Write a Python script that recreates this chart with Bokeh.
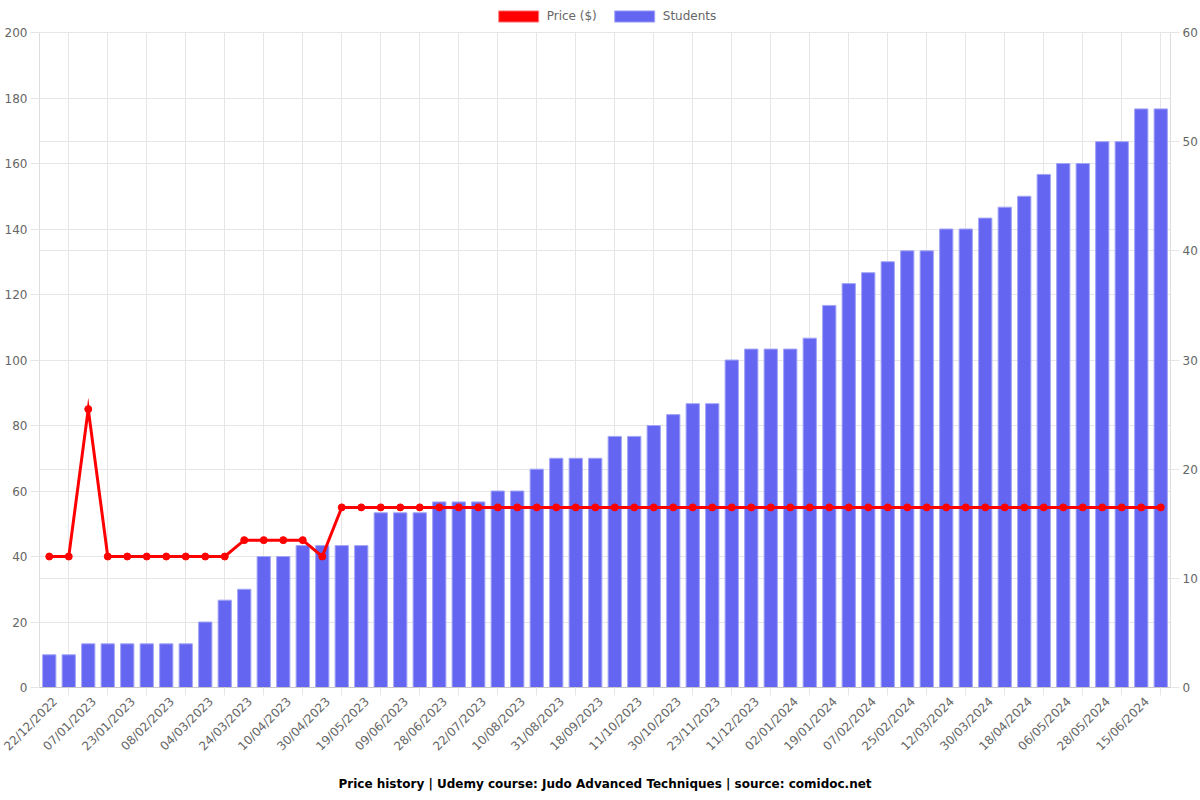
import math
from bokeh.plotting import figure
from bokeh.models import (Range1d, LinearAxis, FixedTicker, Grid, Legend, LegendItem,
                          ColumnDataSource)
from bokeh.embed import file_html
from bokeh.resources import INLINE

# ---- data ----
tick_labels = ["22/12/2022", "07/01/2023", "23/01/2023", "08/02/2023", "04/03/2023",
               "24/03/2023", "10/04/2023", "30/04/2023", "19/05/2023", "09/06/2023",
               "28/06/2023", "22/07/2023", "10/08/2023", "31/08/2023", "18/09/2023",
               "11/10/2023", "30/10/2023", "23/11/2023", "11/12/2023", "02/01/2024",
               "19/01/2024", "07/02/2024", "25/02/2024", "12/03/2024", "30/03/2024",
               "18/04/2024", "06/05/2024", "28/05/2024", "15/06/2024"]

students = [3, 3, 4, 4, 4, 4, 4, 4, 6, 8, 9, 12, 12, 13, 13, 13, 13, 16, 16, 16,
            17, 17, 17, 18, 18, 20, 21, 21, 21, 23, 23, 24, 25, 26, 26, 30, 31, 31,
            31, 32, 35, 37, 38, 39, 40, 40, 42, 42, 43, 44, 45, 47, 48, 48, 50, 50,
            53, 53]

price = [40, 40, 85, 40, 40, 40, 40, 40, 40, 40, 45, 45, 45, 45, 40, 55, 55, 55,
         55, 55, 55, 55, 55, 55, 55, 55, 55, 55, 55, 55, 55, 55, 55, 55, 55, 55, 55,
         55, 55, 55, 55, 55, 55, 55, 55, 55, 55, 55, 55, 55, 55, 55, 55, 55, 55, 55,
         55, 55]

PRICE_MAX = 200
STUDENTS_MAX = 60

x = list(range(len(students)))
src = ColumnDataSource(dict(x=x, students=students, price=price))

GRID = "#e6e6e6"
TXT = "#666666"
FONT = "DejaVu Sans"

# frame spans the whole top (legend lives inside the frame, above the data area)
FRAME_H = 687
DATA_H = 655
head = FRAME_H / DATA_H

p = figure(width=1200, height=800, output_backend="svg", toolbar_location=None,
           x_range=Range1d(-0.5, len(x) - 0.5),
           y_range=Range1d(0, PRICE_MAX * head),
           min_border_left=39, min_border_right=30, min_border_top=0,
           min_border_bottom=113)
p.outline_line_color = None
p.background_fill_color = "white"
p.border_fill_color = "white"

p.extra_y_ranges = {"students": Range1d(0, STUDENTS_MAX * head)}

# grids
p.xgrid.ticker = FixedTicker(ticks=[i for i in x if i % 2 == 1])
p.ygrid.ticker = FixedTicker(ticks=list(range(0, PRICE_MAX + 1, 20)))
for g in (p.xgrid, p.ygrid):
    g.grid_line_color = GRID
    g.grid_line_width = 1
try:
    p.xgrid.cross_bounds = (0, PRICE_MAX)
except Exception:
    pass
g2 = Grid(dimension=1, y_range_name="students",
          ticker=FixedTicker(ticks=list(range(0, STUDENTS_MAX + 1, 10))),
          grid_line_color=GRID, grid_line_width=1)
p.add_layout(g2)

# bars
bars = p.vbar(x="x", top="students", width=0.68, source=src, y_range_name="students",
              fill_color="#6466f1", line_color="#a3a5f6", line_width=1)
# price line
line = p.line("x", "price", source=src, line_color="#ff0000", line_width=3,
              line_join="miter")
pts = p.scatter("x", "price", source=src, size=7, fill_color="#ff0000",
                line_color="#ff0000")
# legend swatch for price (filled box like the reference); no visible data
swatch = p.vbar(x=[float("nan")], top=[float("nan")], width=0.7,
                fill_color="#ff0000", line_color="#ff8080")

# axes
off = 0.3
even_pos = [i + off for i in x if i % 2 == 0][:len(tick_labels)]
xa = p.xaxis[0]
xa.ticker = FixedTicker(ticks=even_pos, minor_ticks=[i for i in x if i % 2 == 1])
xa.major_label_overrides = {pos: lab for pos, lab in zip(even_pos, tick_labels)}
xa.major_label_orientation = math.pi / 4
xa.major_tick_out = 0
xa.major_tick_in = 0
xa.minor_tick_out = 8
xa.minor_tick_in = 0
xa.minor_tick_line_color = GRID
xa.axis_line_color = "#c8c8c8"
xa.major_label_text_color = TXT
xa.major_label_text_font = FONT
xa.major_label_text_font_size = "12px"
xa.major_label_standoff = 4
xa.axis_label = "Price history | Udemy course: Judo Advanced Techniques | source: comidoc.net"
xa.axis_label_text_font = FONT
xa.axis_label_text_font_style = "bold"
xa.axis_label_text_font_size = "12px"
xa.axis_label_text_color = "#000000"
xa.axis_label_standoff = 16

ya = p.yaxis[0]
ya.ticker = FixedTicker(ticks=list(range(0, PRICE_MAX + 1, 20)))
ya.bounds = (0, PRICE_MAX)
ya.major_tick_out = 9
ya.major_tick_in = 0
ya.minor_tick_line_color = None
ya.major_tick_line_color = GRID
ya.axis_line_color = "#dddddd"
ya.major_label_text_color = TXT
ya.major_label_text_font = FONT
ya.major_label_text_font_size = "12px"
ya.major_label_standoff = 3

ra = LinearAxis(y_range_name="students",
                ticker=FixedTicker(ticks=list(range(0, STUDENTS_MAX + 1, 10))),
                bounds=(0, STUDENTS_MAX))
ra.major_tick_out = 9
ra.major_tick_in = 0
ra.minor_tick_line_color = None
ra.major_tick_line_color = GRID
ra.axis_line_color = "#dddddd"
ra.major_label_text_color = TXT
ra.major_label_text_font = FONT
ra.major_label_text_font_size = "12px"
ra.major_label_standoff = 3
p.add_layout(ra, "right")

legend = Legend(items=[LegendItem(label="Price ($)", renderers=[swatch]),
                       LegendItem(label="Students", renderers=[bars])],
                orientation="horizontal", location="top_center",
                glyph_width=50, glyph_height=14, label_standoff=4, spacing=12,
                padding=6, margin=3, border_line_alpha=0, background_fill_alpha=0,
                label_text_font=FONT, label_text_font_size="12px",
                label_text_color=TXT)
p.add_layout(legend, "center")

open("out.html", "w").write(file_html(p, INLINE))
